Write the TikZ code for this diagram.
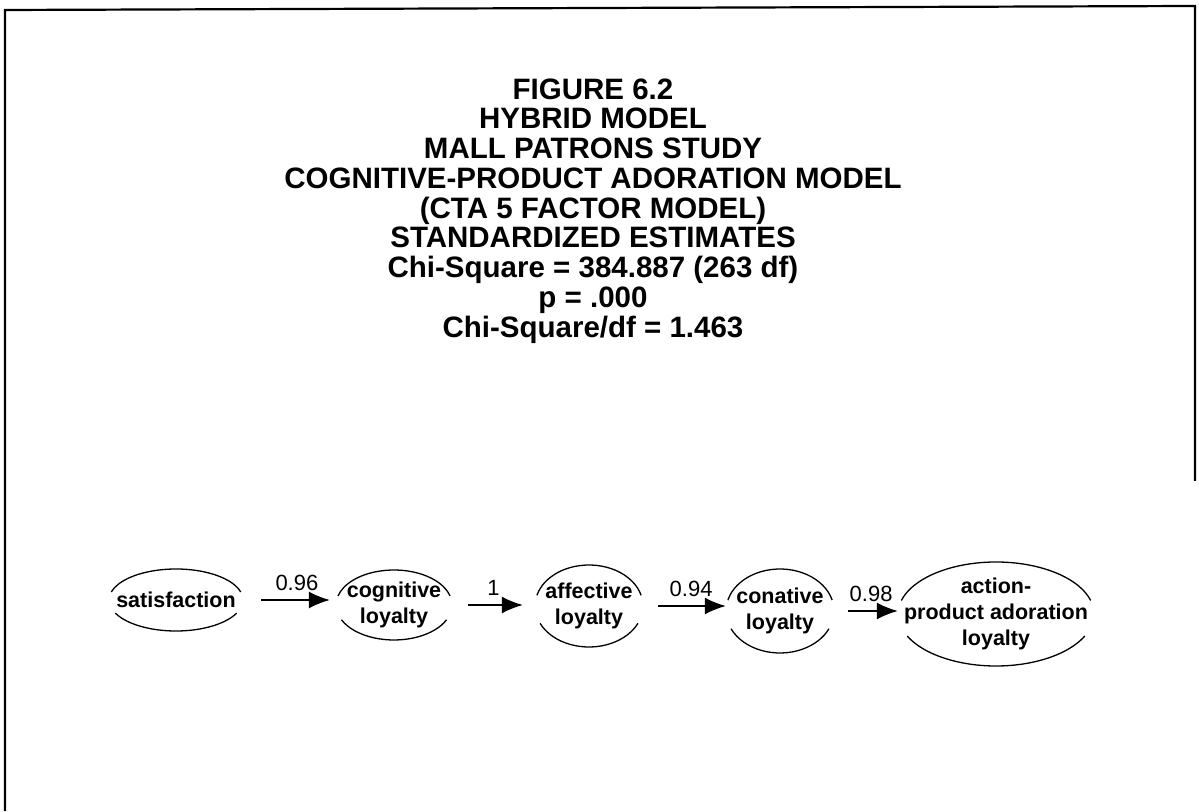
\documentclass[tikz,border=0pt]{standalone}
\usepackage{fontspec}
\setmainfont{Liberation Sans}
\usetikzlibrary{arrows.meta,shapes.geometric}

\begin{document}
\begin{tikzpicture}[x=1pt, y=1pt, >=Latex,
  latent/.style={ellipse, inner sep=-30pt, align=center,
    font=\bfseries\fontsize{21.5}{26}\selectfont},
  rim/.style={line width=1.3pt},
  link/.style={line width=1.4pt, -{Latex[length=21pt,width=17pt]}},
  coef/.style={font=\fontsize{22}{24}\selectfont, inner sep=1pt, above=8pt, pos=0.58}]
  \useasboundingbox (0,0) rectangle (1199,811);
  % frame of the scanned page
  \draw[line width=2.2pt] (5,0) -- (5,801) -- (1195,805) -- (1195,330);
  % title block
  \node[font=\bfseries\fontsize{29.5}{29.75}\selectfont, align=center, inner sep=0pt] (title) at (593,600)
    {FIGURE 6.2\\ HYBRID MODEL\\ MALL PATRONS STUDY\\ COGNITIVE-PRODUCT ADORATION MODEL\\
     (CTA 5 FACTOR MODEL)\\ STANDARDIZED ESTIMATES\\ Chi-Square = 384.887 (263 df)\\
     p = .000\\ Chi-Square/df = 1.463};
  % latent factors
  \node[latent, minimum width=134pt, minimum height=62pt] (sat) at (176,211) {satisfaction};
  \node[latent, minimum width=116pt, minimum height=70pt] (cog) at (394,206) {cognitive\\ loyalty};
  \node[latent, minimum width=108pt, minimum height=82pt] (aff) at (589,205) {affective\\ loyalty};
  \node[latent, minimum width=108pt, minimum height=84pt] (con) at (780,200) {conative\\ loyalty};
  \node[latent, minimum width=196pt, minimum height=104pt] (act) at (996,197) {action-\\ product adoration\\ loyalty};
  \foreach \n/\rx/\ry in {sat/67/31, cog/58/35, aff/54/41, con/54/42, act/98/52} {
    \draw[rim] ([shift={(15:\rx pt and \ry pt)}]\n.center) arc[start angle=15, end angle=165, x radius=\rx pt, y radius=\ry pt];
    \draw[rim] ([shift={(205:\rx pt and \ry pt)}]\n.center) arc[start angle=205, end angle=335, x radius=\rx pt, y radius=\ry pt];
  }
  % paths
  \draw[link, shorten <=18pt, shorten >=6pt] (sat.east) -- (sat.east -| cog.west) node[coef] {0.96};
  \draw[link, shorten <=16pt, shorten >=12pt] (cog.east) -- (cog.east -| aff.west) node[coef, pos=0.5] {1};
  \draw[link, shorten <=15pt] (aff.east) -- (aff.east -| con.west) node[coef] {0.94};
  \draw[link, shorten <=14pt] (con.east) -- (con.east -| act.west) node[coef] {0.98};
\end{tikzpicture}
\end{document}
